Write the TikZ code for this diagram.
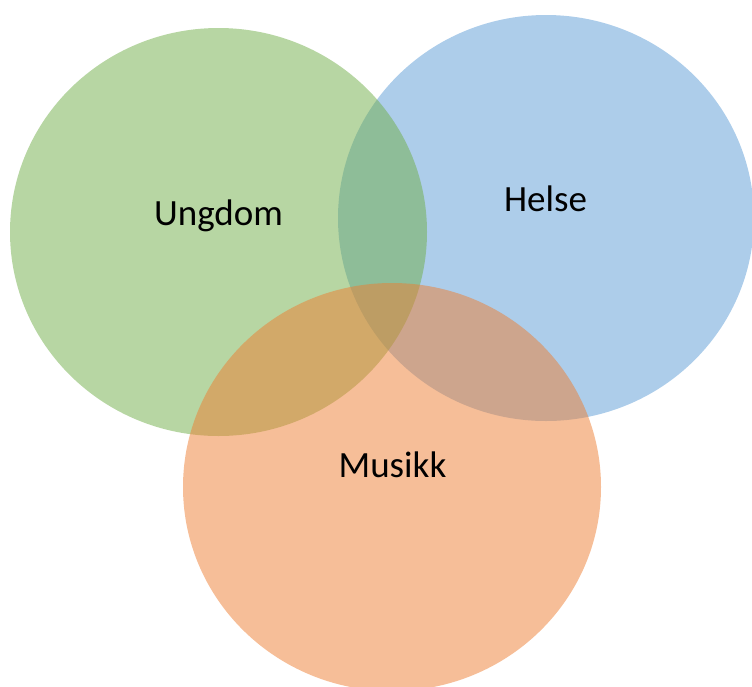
\documentclass[tikz,border=0pt]{standalone}
\usepackage{fontspec}
\setmainfont{Carlito}
\definecolor{cblue}{HTML}{5B9BD5}
\definecolor{cgreen}{HTML}{70AD47}
\definecolor{corange}{HTML}{ED7D31}
\begin{document}
\begin{tikzpicture}[x=1pt,y=-1pt,
  blob/.style={fill opacity=0.5, draw=none},
  lbl/.style={anchor=base, font=\fontsize{37}{41}\selectfont, text=black, inner sep=0pt}]
\useasboundingbox (0,0) rectangle (752,686);
\fill[blob, cblue] (546,218) ellipse [x radius=208, y radius=203];
\fill[blob, cgreen] (218.5,232) ellipse [x radius=208.5, y radius=204];
\fill[blob, corange] (392,487) ellipse [x radius=209, y radius=204];
\node[lbl] (ungdom) at (218.5,225) {Ungdom};
\node[lbl] (helse) at (545.5,211) {Helse};
\node[lbl] (musikk) at (392.5,477) {Musikk};
\end{tikzpicture}
\end{document}
